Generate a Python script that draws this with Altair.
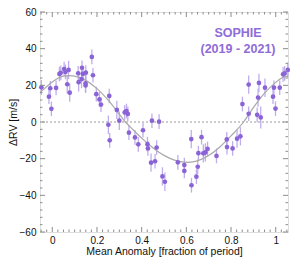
import altair as alt
import pandas as pd

phase = [-0.049, -0.015, -0.009, -0.004, 0.017, 0.032, 0.038, 0.053, 0.059, 0.067,
         0.073, 0.078, 0.116, 0.118, 0.131, 0.133, 0.137, 0.150, 0.149, 0.149,
         0.177, 0.182, 0.197, 0.211, 0.218, 0.255, 0.251, 0.257, 0.289, 0.300,
         0.324, 0.332, 0.338, 0.343, 0.370, 0.385, 0.406, 0.426, 0.428, 0.442,
         0.446, 0.460, 0.467, 0.478, 0.493, 0.504, 0.562, 0.591, 0.591, 0.622,
         0.623, 0.645, 0.651, 0.654, 0.668, 0.676, 0.685, 0.695, 0.735, 0.781,
         0.782, 0.807, 0.827, 0.842, 0.851, 0.879, 0.879, 0.917, 0.921, 0.925,
         0.933, 0.952, 0.988, 0.992, 0.999, 1.018, 1.033, 1.040, 1.054]
rv = [18.9, 13.8, 18.4, 7.2, 18.6, 26.2, 26.8, 28.9, 27.3, 20.6,
      28.4, 16.0, 26.6, 21.7, 23.4, 29.6, 26.2, 26.9, 21.1, 19.9,
      35.5, 25.5, 15.2, 12.3, 9.5, 14.2, -1.5, -10.0, 6.6, 0.7,
      5.2, 6.0, 4.4, -5.8, -8.4, -12.2, -4.5, -12.1, -14.4, -22.2,
      0.7, -21.4, -13.9, 0.2, -29.7, -32.6, -22.0, -23.5, -26.7, -9.3,
      -34.5, -29.8, -24.4, -17.0, -8.3, -17.1, -16.6, -14.7, -18.5, -9.5,
      -13.7, -14.4, -9.1, -7.8, 9.8, 20.4, 4.5, 3.9, 13.3, 21.3,
      2.5, 18.7, 13.8, 18.7, 7.3, 18.7, 26.0, 26.5, 28.4]
err = [4, 4, 4, 4, 4, 4, 4, 4, 4, 5,
       5, 5, 4, 5, 5, 4, 4, 4, 5, 4,
       4, 4, 4, 4, 4, 4, 5, 4, 5, 5,
       4, 4, 4, 4, 4, 4, 4, 4, 4, 5,
       4, 4, 4, 4, 5, 5, 4, 4, 4, 5,
       4, 4, 4, 4, 4, 5, 5, 4, 4, 4,
       4, 4, 5, 5, 4, 5, 4, 4, 5, 5,
       6, 5, 4, 4, 4, 4, 4, 4, 4]

# Orbital model curve
model_phase = [-0.055, 0.0, 0.025, 0.05, 0.078, 0.1, 0.15, 0.2, 0.25, 0.3, 0.327,
               0.35, 0.4, 0.45, 0.5, 0.55, 0.607, 0.65, 0.7, 0.75, 0.8, 0.856,
               0.9, 0.95, 1.0, 1.025, 1.055]
model_rv = [16.0, 21.8, 23.9, 25.0, 25.3, 25.0, 22.7, 18.2, 11.9, 4.3, 0.0,
            -2.8, -8.8, -14.0, -18.2, -20.9, -22.0, -21.2, -18.3, -13.6, -7.6, 0.0,
            7.8, 15.7, 21.6, 23.9, 25.0]

y_major = [-60, -40, -20, 0, 20, 40, 60]
y_minor = [v for v in range(-60, 61, 4) if v % 20 != 0]
x_major = [0, 0.2, 0.4, 0.6, 0.8, 1.0]
x_minor = [round(-0.05 + 0.025 * i, 3) for i in range(45)]
x_minor = [v for v in x_minor if abs(v / 0.2 - round(v / 0.2)) > 1e-6]

W, H = 248, 220
xs = alt.Scale(domain=[-0.055, 1.055], nice=False, zero=False)
ys = alt.Scale(domain=[-60, 60], nice=False, zero=False)
FONT = "Liberation Sans"
PURPLE = "#8a63d6"
TICK = "#8c8c8c"

pts = pd.DataFrame({"phase": phase, "rv": rv, "err": err})
pts["lo"] = pts["rv"] - pts["err"]
pts["hi"] = pts["rv"] + pts["err"]
model = pd.DataFrame({"phase": model_phase, "rv": model_rv})

xax = alt.Axis(values=x_major, format="~g", ticks=False, domain=False, grid=False,
               labelFont=FONT, labelFontSize=10, labelColor="#111", labelPadding=3,
               labelOverlap=False,
               title="Mean Anomaly [fraction of period]", titleFont=FONT,
               titleFontSize=10.5, titleFontWeight="normal", titleColor="#111", titlePadding=1)
yax = alt.Axis(values=y_major, format="d", ticks=False, domain=False, grid=False,
               labelFont=FONT, labelFontSize=10, labelColor="#111", labelPadding=4,
               labelOverlap=False,
               title="ΔRV [m/s]", titleFont=FONT, titleFontSize=10.5,
               titleFontWeight="normal", titleColor="#111", titlePadding=1)


def X(field):
    return alt.X(field, type="quantitative", scale=xs, axis=xax)


def Y(field):
    return alt.Y(field, type="quantitative", scale=ys, axis=yax)


base_pts = alt.Chart(pts)
errbars = base_pts.mark_rule(color="#b9a4ea", strokeWidth=1.3, opacity=0.9).encode(
    x=X("phase"), y=Y("lo"), y2="hi:Q",
)
dots = base_pts.mark_circle(size=22, color=PURPLE, opacity=1).encode(
    x=X("phase"), y=Y("rv")
)
curve = alt.Chart(model).mark_line(color="#a9a9a9", strokeWidth=1.2, interpolate="monotone").encode(
    x=X("phase"), y=Y("rv")
)
zero = alt.Chart(pd.DataFrame({"v": [0]})).mark_rule(
    color="#9a9a9a", strokeDash=[2, 2], strokeWidth=1
).encode(y=Y("v"))


def yticks(vals, length):
    d = pd.DataFrame({"v": vals})
    left = alt.Chart(d).mark_rule(color=TICK, strokeWidth=1).encode(
        y=Y("v"), x=alt.value(0), x2=alt.value(length))
    right = alt.Chart(d).mark_rule(color=TICK, strokeWidth=1).encode(
        y=Y("v"), x=alt.value(W - length), x2=alt.value(W))
    return left + right


def xticks(vals, length):
    d = pd.DataFrame({"v": vals})
    bottom = alt.Chart(d).mark_rule(color=TICK, strokeWidth=1).encode(
        x=X("v"), y=alt.value(H - length), y2=alt.value(H))
    top = alt.Chart(d).mark_rule(color=TICK, strokeWidth=1).encode(
        x=X("v"), y=alt.value(0), y2=alt.value(length))
    return bottom + top


def label(text, py):
    return alt.Chart(pd.DataFrame({"t": [text]})).mark_text(
        font=FONT, fontSize=12.5, fontWeight="bold", color="#8f6cd8",
        align="center", baseline="middle"
    ).encode(text="t:N", x=alt.value(198), y=alt.value(py))


chart = alt.layer(
    errbars, zero, curve, dots,
    yticks(y_major, 5), yticks(y_minor, 2.5),
    xticks(x_major, 5), xticks(x_minor, 2.5),
    label("SOPHIE", 21), label("(2019 - 2021)", 37),
).properties(
    width=W, height=H,
    autosize=alt.AutoSizeParams(type="none"),
    padding={"left": 32, "top": 4, "right": 11, "bottom": 26},
).configure_view(stroke="#8c8c8c", strokeWidth=1.2).configure_axis(
    labelOverlap=False
).configure(background="white")

chart.save("out.html", embed_options={"renderer": "svg", "actions": False})
